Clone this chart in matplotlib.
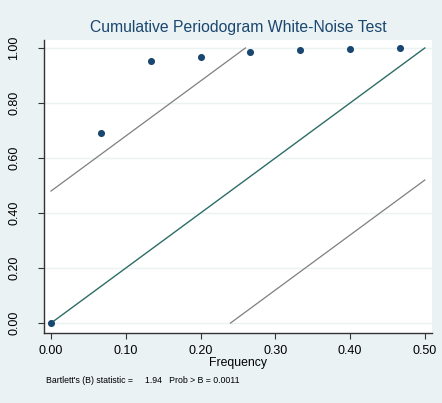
import matplotlib
matplotlib.use("Agg")
import matplotlib.pyplot as plt
import numpy as np

plt.rcParams['font.family'] = ['Liberation Sans', 'DejaVu Sans']

# cumulative periodogram values at Fourier frequencies k/15
freq = [0.0, 1/15, 2/15, 3/15, 4/15, 5/15, 6/15, 7/15]
cum_pgram = [0.0, 0.691, 0.953, 0.966, 0.985, 0.993, 0.998, 1.0]
band = 0.48  # half-width of the confidence band
ticks_x = [0.0, 0.1, 0.2, 0.3, 0.4, 0.5]
ticks_y = [0.0, 0.2, 0.4, 0.6, 0.8, 1.0]
bg = '#eaf2f3'
navy = '#1a476f'

fig = plt.figure(figsize=(4.42, 4.03), dpi=100, facecolor=bg)
ax = fig.add_axes([0.0995, 0.1737, 0.8775, 0.727])
ax.set_facecolor('white')

# reference line and confidence bands
f = np.linspace(0, 0.5, 201)
ax.plot([0, 0.5], [0, 1], color='#2d6d66', lw=1.0, zorder=2)
up = 2 * f + band
ax.plot(f[up <= 1.0001], up[up <= 1.0001], color='#7f7f7f', lw=0.9, zorder=2)
lo = 2 * f - band
ax.plot(f[lo >= -0.0001], lo[lo >= -0.0001], color='#7f7f7f', lw=0.9, zorder=2)

ax.scatter(freq, cum_pgram, s=26, color=navy, zorder=3, linewidths=0)

ax.set_xlim(-0.0094, 0.5094)
ax.set_ylim(-0.036, 1.029)
ax.set_xticks(ticks_x)
ax.set_xticklabels(['%.2f' % t for t in ticks_x])
ax.set_yticks(ticks_y)
ax.set_yticklabels(['%.2f' % t for t in ticks_y], rotation=90, va='center')
ax.grid(axis='y', color=bg, lw=1.0, zorder=0)
ax.set_axisbelow(True)
for s in ['top', 'right']:
    ax.spines[s].set_visible(False)
for s in ['left', 'bottom']:
    ax.spines[s].set_color('#333333')
    ax.spines[s].set_linewidth(1.0)
ax.tick_params(direction='out', length=4, width=0.8, colors='#333333', labelsize=9, labelcolor='black')
ax.tick_params(axis='y', pad=13)
ax.tick_params(axis='x', pad=4.5)

ax.set_xlabel('Frequency', fontsize=8.8, labelpad=0.5)
ax.set_title('Cumulative Periodogram White-Noise Test', fontsize=11.3, color=navy, pad=6)
fig.text(0.104, 0.055, "Bartlett's (B) statistic =     1.94   Prob > B = 0.0011", fontsize=6.3, va='center')

fig.savefig('out.png', dpi=100, facecolor=bg)
